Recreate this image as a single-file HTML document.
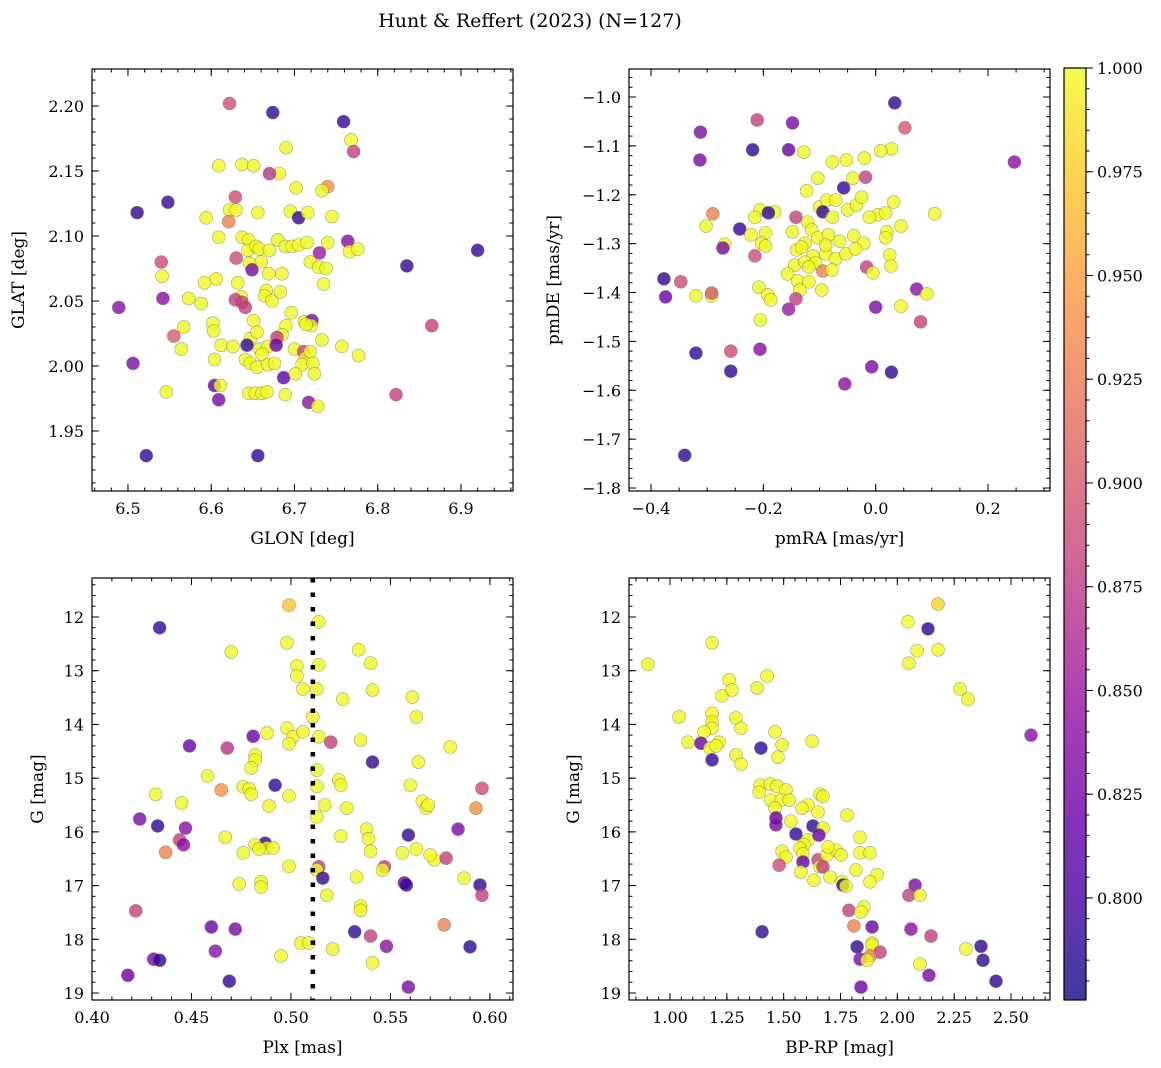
<!DOCTYPE html>
<html><head><meta charset="utf-8">
<style>
body{margin:0;background:#fff;}
svg{display:block;font-family:"DejaVu Serif","Liberation Serif",serif;}
</style></head>
<body>
<svg id="fig" width="1161" height="1068" viewBox="0 0 1161 1068" xmlns="http://www.w3.org/2000/svg">
<defs>
<linearGradient id="plasma" x1="0" y1="1" x2="0" y2="0">
<stop offset="0" stop-color="#0d0887"/><stop offset="0.1" stop-color="#41049d"/><stop offset="0.2" stop-color="#6a00a8"/><stop offset="0.3" stop-color="#8f0da4"/><stop offset="0.4" stop-color="#b12a90"/><stop offset="0.5" stop-color="#cc4778"/><stop offset="0.6" stop-color="#e16462"/><stop offset="0.7" stop-color="#f2844b"/><stop offset="0.8" stop-color="#fca636"/><stop offset="0.9" stop-color="#fcce25"/><stop offset="1" stop-color="#f0f921"/>
</linearGradient>
</defs>
<text x="530" y="27" font-size="19" text-anchor="middle">Hunt &amp; Reffert (2023) (N=127)</text>
</svg>
<script>
// ---- data ----
const sky = [
6.622,2.202,.89, 6.674,2.195,.79, 6.759,2.188,.79, 6.768,2.174,1, 6.690,2.168,1, 6.771,2.165,.88,
6.637,2.155,1, 6.609,2.154,1, 6.651,2.154,1, 6.682,2.148,1, 6.670,2.148,.87, 6.740,2.138,.94,
6.702,2.137,1, 6.733,2.135,1, 6.629,2.130,.89, 6.548,2.126,.79, 6.511,2.118,.79, 6.622,2.120,1,
6.630,2.120,1, 6.594,2.114,1, 6.656,2.118,1, 6.695,2.119,1, 6.705,2.114,.79, 6.716,2.118,1,
6.745,2.115,1, 6.621,2.111,.93, 6.637,2.099,1, 6.645,2.097,1, 6.644,2.089,1, 6.654,2.092,1,
6.660,2.080,1, 6.680,2.097,1, 6.689,2.092,1, 6.697,2.092,1, 6.705,2.093,1, 6.715,2.095,1,
6.740,2.095,1, 6.764,2.096,.84, 6.630,2.083,.89, 6.609,2.099,1, 6.658,2.090,1, 6.670,2.089,1,
6.730,2.087,.85, 6.719,2.080,1, 6.729,2.076,1, 6.738,2.075,1, 6.766,2.088,1, 6.776,2.090,1,
6.735,2.063,1, 6.646,2.079,1, 6.649,2.074,.83, 6.669,2.071,1, 6.685,2.071,1, 6.606,2.067,1,
6.592,2.064,1, 6.632,2.064,1, 6.666,2.058,1, 6.664,2.054,1, 6.673,2.050,1, 6.683,2.057,1,
6.636,2.053,1, 6.573,2.052,1, 6.588,2.048,1, 6.637,2.049,.88, 6.629,2.051,.88, 6.641,2.045,.88,
6.835,2.077,.79, 6.920,2.089,.79, 6.540,2.080,.89, 6.542,2.052,.84, 6.541,2.069,1, 6.602,2.033,1,
6.603,2.027,1, 6.696,2.041,1, 6.712,2.034,1, 6.721,2.035,.83, 6.720,2.031,1, 6.651,2.035,1,
6.567,2.030,1, 6.647,2.021,1, 6.655,2.026,1, 6.690,2.031,1, 6.685,2.024,1, 6.714,2.032,1,
6.658,2.013,1, 6.668,2.015,1, 6.679,2.022,.88, 6.678,2.016,.82, 6.700,2.013,1, 6.711,2.011,.88,
6.713,2.006,1, 6.719,2.011,1, 6.733,2.020,1, 6.757,2.015,1, 6.777,2.008,1, 6.643,2.016,.79,
6.564,2.013,1, 6.604,2.005,1, 6.612,2.016,1, 6.626,2.015,1, 6.641,2.005,1, 6.647,2.002,1,
6.655,1.999,1, 6.661,2.009,1, 6.668,2.001,1, 6.676,2.002,1, 6.709,2.001,1, 6.722,2.002,1,
6.724,1.994,1, 6.687,1.991,.81, 6.555,2.023,.9, 6.865,2.031,.88, 6.546,1.980,1, 6.604,1.985,.82,
6.611,1.985,1, 6.645,1.979,1, 6.653,1.979,1, 6.661,1.979,1, 6.667,1.980,1, 6.689,1.978,1,
6.701,1.994,1, 6.717,1.972,.84, 6.728,1.969,1, 6.609,1.974,.83, 6.822,1.978,.88, 6.489,2.045,.84,
6.506,2.002,.83, 6.522,1.931,.79, 6.656,1.931,.79
];
const pm = [
0.034,-1.012,.79, 0.247,-1.133,.84, 0.052,-1.063,.9, -0.312,-1.072,.83, -0.211,-1.047,.88, -0.148,-1.053,.83,
-0.219,-1.108,.79, -0.155,-1.108,.82, -0.128,-1.113,1, -0.313,-1.129,.83, 0.028,-1.106,1, 0.009,-1.110,1,
-0.020,-1.125,1, -0.052,-1.129,1, -0.077,-1.133,1, -0.103,-1.166,1, -0.041,-1.166,1, -0.018,-1.164,.88,
-0.123,-1.192,1, -0.057,-1.186,.79, -0.100,-1.225,1, -0.087,-1.211,1, -0.071,-1.211,1, -0.094,-1.235,.79,
0.032,-1.215,1, 0.004,-1.241,1, 0.018,-1.237,1, -0.011,-1.246,1, 0.045,-1.264,1, 0.105,-1.239,1,
-0.180,-1.235,1, -0.206,-1.231,1, -0.191,-1.237,.79, -0.215,-1.246,1, -0.142,-1.246,.88, -0.121,-1.256,1,
-0.077,-1.246,1, -0.050,-1.231,1, -0.290,-1.239,.93, -0.302,-1.264,1, -0.242,-1.270,.79, -0.222,-1.282,1,
-0.196,-1.278,1, -0.148,-1.276,1, -0.114,-1.272,1, -0.126,-1.299,1, -0.103,-1.288,1, -0.084,-1.282,1,
-0.064,-1.295,1, -0.039,-1.284,1, -0.021,-1.299,1, 0.020,-1.276,1, 0.018,-1.288,1, 0.025,-1.323,1,
0.027,-1.346,1, -0.016,-1.348,.88, -0.005,-1.360,1, -0.203,-1.299,1, -0.196,-1.305,1, -0.269,-1.301,1,
-0.272,-1.309,.83, -0.215,-1.325,.89, -0.141,-1.313,1, -0.132,-1.307,1, -0.112,-1.325,1, -0.089,-1.321,1,
-0.071,-1.331,1, -0.053,-1.321,1, -0.036,-1.311,1, -0.144,-1.344,1, -0.126,-1.338,1, -0.107,-1.340,1,
-0.094,-1.356,.93, -0.078,-1.354,1, -0.157,-1.362,1, -0.139,-1.376,1, -0.119,-1.378,1, -0.135,-1.395,1,
-0.096,-1.395,1, -0.208,-1.389,1, -0.192,-1.405,1, -0.187,-1.415,1, -0.142,-1.413,.88, -0.377,-1.372,.79,
-0.347,-1.378,.89, -0.374,-1.409,.82, -0.320,-1.407,1, -0.292,-1.407,1, -0.292,-1.401,.9, -0.205,-1.456,1,
-0.155,-1.434,.85, 0.073,-1.393,.84, 0.091,-1.403,1, 0.045,-1.428,1, 0.000,-1.430,.83, 0.080,-1.460,.88,
-0.320,-1.524,.79, -0.258,-1.520,.89, -0.206,-1.516,.84, -0.258,-1.561,.79, -0.007,-1.552,.83, 0.028,-1.563,.79,
-0.055,-1.587,.84, -0.340,-1.733,.79, -0.034,-1.221,1, -0.025,-1.205,1, -0.089,-1.303,1, -0.119,-1.348,1
];
const plxG = [
0.499,11.78,.97, 0.514,12.09,1, 0.434,12.20,.79, 0.534,12.61,1, 0.470,12.65,1, 0.498,12.48,1,
0.503,12.91,1, 0.540,12.86,1, 0.514,12.89,1, 0.503,13.10,1, 0.506,13.34,1, 0.513,13.34,1,
0.541,13.36,1, 0.526,13.53,1, 0.561,13.49,1, 0.563,13.86,1, 0.511,13.86,1, 0.498,14.07,1,
0.514,14.23,1, 0.520,14.33,.88, 0.488,14.16,1, 0.501,14.23,1, 0.506,14.14,1, 0.499,14.36,1,
0.481,14.22,.82, 0.535,14.29,1, 0.468,14.44,.87, 0.449,14.40,.82, 0.564,14.70,1, 0.541,14.70,.79,
0.482,14.57,1, 0.482,14.66,1, 0.580,14.42,1, 0.480,14.81,1, 0.513,14.85,1, 0.524,15.03,1,
0.525,15.13,1, 0.513,15.15,1, 0.458,14.96,1, 0.492,15.13,.79, 0.476,15.16,1, 0.479,15.20,1,
0.465,15.22,.94, 0.480,15.30,1, 0.432,15.30,1, 0.499,15.33,1, 0.560,15.13,1, 0.596,15.19,.89,
0.517,15.50,1, 0.445,15.46,1, 0.489,15.52,1, 0.528,15.56,1, 0.566,15.43,1, 0.568,15.56,1,
0.569,15.50,1, 0.593,15.56,.94, 0.513,15.72,1, 0.538,15.95,1, 0.424,15.76,.83, 0.433,15.89,.79,
0.447,15.93,.84, 0.584,15.95,.83, 0.559,16.06,.79, 0.525,16.08,1, 0.539,16.13,1, 0.467,16.10,1,
0.444,16.15,.88, 0.446,16.24,.84, 0.487,16.21,.79, 0.482,16.24,1, 0.540,16.36,1, 0.488,16.30,1,
0.491,16.30,1, 0.484,16.32,1, 0.476,16.39,1, 0.437,16.38,.93, 0.556,16.39,1, 0.563,16.32,1,
0.572,16.52,1, 0.570,16.43,1, 0.578,16.49,.88, 0.547,16.65,.88, 0.546,16.71,1, 0.514,16.65,.88,
0.513,16.71,1, 0.499,16.64,1, 0.516,16.86,.79, 0.533,16.84,1, 0.587,16.86,1, 0.557,16.95,.82,
0.558,16.99,.79, 0.474,16.97,1, 0.485,16.93,1, 0.485,17.03,1, 0.518,17.18,1, 0.595,16.99,.79,
0.596,17.18,.88, 0.535,17.38,1, 0.535,17.46,1, 0.422,17.47,.88, 0.577,17.73,.93, 0.460,17.77,.82,
0.472,17.81,.83, 0.532,17.86,.79, 0.540,17.94,.88, 0.505,18.07,1, 0.509,18.07,1, 0.548,18.13,.84,
0.590,18.14,.79, 0.521,18.18,1, 0.462,18.22,.84, 0.495,18.31,1, 0.431,18.37,.83, 0.434,18.39,.79,
0.541,18.44,1, 0.418,18.67,.82, 0.469,18.78,.79, 0.559,18.89,.83
];
const cmd = [
2.179,11.76,.98, 2.047,12.09,1, 2.135,12.22,.79, 2.087,12.63,1, 2.179,12.61,1, 2.051,12.86,1,
0.903,12.88,1, 1.185,12.48,1, 1.427,13.10,1, 1.260,13.17,1, 2.276,13.34,1, 2.311,13.53,1,
1.383,13.32,1, 1.229,13.47,1, 1.273,13.36,1, 1.040,13.86,1, 1.185,13.79,1, 1.185,13.95,1,
1.185,14.07,1, 1.290,13.88,1, 1.312,14.07,1, 1.150,14.14,1, 1.216,14.33,1, 1.136,14.35,.82,
1.079,14.33,1, 1.176,14.44,1, 1.203,14.40,1, 1.400,14.44,.79, 1.462,14.14,1, 1.493,14.38,1,
1.475,14.61,1, 1.625,14.31,1, 1.290,14.57,1, 1.312,14.74,1, 1.185,14.66,.79, 2.588,14.20,.84,
1.397,15.13,1, 1.441,15.11,1, 1.471,15.15,1, 1.392,15.26,1, 1.444,15.41,1, 1.510,15.22,1,
1.489,15.41,1, 1.524,15.41,1, 1.462,15.56,1, 1.607,15.50,1, 1.580,15.56,1, 1.660,15.30,1,
1.673,15.34,1, 1.779,15.69,1, 1.651,15.63,1, 1.466,15.74,.82, 1.466,15.87,.83, 1.532,15.80,1,
1.629,15.89,.79, 1.673,15.93,1, 1.554,16.04,.79, 1.607,16.15,1, 1.655,16.06,.82, 1.836,16.10,1,
1.589,16.24,1, 1.572,16.30,1, 1.493,16.36,1, 1.510,16.47,1, 1.585,16.41,1, 1.651,16.52,.88,
1.690,16.43,1, 1.730,16.34,1, 1.752,16.43,1, 1.660,16.65,1, 1.673,16.65,.88, 1.695,16.28,1,
1.836,16.39,1, 1.480,16.62,.89, 1.585,16.56,.82, 1.576,16.75,1, 1.818,16.71,1, 1.880,16.39,1,
1.633,16.90,1, 1.704,16.84,1, 1.757,16.93,1, 1.761,16.99,.79, 1.774,17.01,1, 1.911,16.80,1,
1.880,16.93,1, 2.078,16.99,.83, 2.051,17.18,.88, 2.100,17.18,1, 1.787,17.46,.88, 1.853,17.40,1,
1.840,17.49,1, 1.809,17.75,.93, 1.889,17.77,.82, 1.405,17.86,.79, 2.060,17.81,.84, 2.148,17.94,.88,
1.889,18.07,1, 1.889,18.11,1, 1.823,18.14,.79, 2.368,18.13,.79, 2.302,18.18,1, 1.924,18.24,.88,
1.880,18.31,.93, 1.836,18.37,.83, 1.867,18.39,1, 2.100,18.46,1, 2.377,18.39,.79, 2.139,18.67,.83,
2.434,18.78,.79, 1.840,18.89,.82
];
const plxLine = [0.511];
const cbTicks = [0.800,0.825,0.850,0.875,0.900,0.925,0.950,0.975,1.000];
const cbRange = [0.7754, 1.0];

// ---- drawing ----
const NS = "http://www.w3.org/2000/svg";
const svg = document.getElementById('fig');
function el(tag, attrs, parent){ const e = document.createElementNS(NS, tag); for (const k in attrs) e.setAttribute(k, attrs[k]); (parent||svg).appendChild(e); return e; }
const stops = ["#0d0887","#41049d","#6a00a8","#8f0da4","#b12a90","#cc4778","#e16462","#f2844b","#fca636","#fcce25","#f0f921"];
function hex(h){return [parseInt(h.slice(1,3),16),parseInt(h.slice(3,5),16),parseInt(h.slice(5,7),16)];}
function cmap(v){
  let t = (v-cbRange[0])/(cbRange[1]-cbRange[0]); t = Math.max(0,Math.min(1,t));
  const f = t*10, i = Math.min(9, Math.floor(f)), r = f-i;
  const a = hex(stops[i]), b = hex(stops[i+1]);
  return 'rgb(' + a.map((c,k)=>Math.round(c+(b[k]-c)*r)).join(',') + ')';
}
function fmtNum(v, d){ const s = Math.abs(v).toFixed(d); return (v < -1e-9 ? '\u2212' : '') + s; }

function panel(cfg){
  const g = el('g', {});
  
  
  const {x0,x1,y0,y1,xmin,xmax,ymin,ymax,invY} = cfg;
  const sx = v => x0 + (v-xmin)/(xmax-xmin)*(x1-x0);
  const sy = v => invY ? y0 + (v-ymin)/(ymax-ymin)*(y1-y0) : y1 - (v-ymin)/(ymax-ymin)*(y1-y0);
  function ticks(step, lo, hi){ const out=[]; for(let k=Math.ceil(lo/step-1e-6); k<=Math.floor(hi/step+1e-6); k++) out.push(k*step); return out; }
  const tg = el('g', {stroke:'#000','stroke-width':1}, g);
  ticks(cfg.xminor, xmin, xmax).forEach(v=>{ const x=sx(v); el('line',{x1:x,x2:x,y1:y1,y2:y1-3.5},tg); el('line',{x1:x,x2:x,y1:y0,y2:y0+3.5},tg); });
  ticks(cfg.yminor, ymin, ymax).forEach(v=>{ const y=sy(v); el('line',{x1:x0,x2:x0+3.5,y1:y,y2:y},tg); el('line',{x1:x1,x2:x1-3.5,y1:y,y2:y},tg); });
  ticks(cfg.xmajor, xmin, xmax).forEach(v=>{ const x=sx(v);
    el('line',{x1:x,x2:x,y1:y1,y2:y1-7},tg); el('line',{x1:x,x2:x,y1:y0,y2:y0+7},tg);
    const t = el('text',{x:x,y:y1+23,'font-size':16,'text-anchor':'middle'},g); t.textContent = fmtNum(v,cfg.xd);
      });
  ticks(cfg.ymajor, ymin, ymax).forEach(v=>{ const y=sy(v);
    el('line',{x1:x0,x2:x0+7,y1:y,y2:y},tg); el('line',{x1:x1,x2:x1-7,y1:y,y2:y},tg);
    const t = el('text',{x:x0-8,y:y+6,'font-size':16,'text-anchor':'end'},g); t.textContent = fmtNum(v,cfg.yd);
      });
  const pg = el('g', {}, g);
  
  
  const d = cfg.data;
  for (let i=0;i<d.length;i+=3){
    const c = el('circle',{cx:sx(d[i]),cy:sy(d[i+1]),r:6.5,fill:cmap(d[i+2]),'fill-opacity':0.8,stroke:'#6b6b50','stroke-opacity':0.6,'stroke-width':0.6},pg);
    
    
  }
  if (cfg.vline){ cfg.vline.forEach(v=>{ const l = el('line',{x1:sx(v),x2:sx(v),y1:y0,y2:y1,stroke:'#000','stroke-width':4.5,'stroke-dasharray':'4.5,10'},g);
      }); }
  const fr = el('rect',{x:x0,y:y0,width:x1-x0,height:y1-y0,fill:'none',stroke:'#000','stroke-width':1.2},g);
   
  const xl = el('text',{x:(x0+x1)/2,y:y1+53,'font-size':17,'text-anchor':'middle'},g); xl.textContent = cfg.xlabel;
   
  const yx = cfg.ylabx, yy = (y0+y1)/2;
  const yl = el('text',{x:yx,y:yy,'font-size':17,'text-anchor':'middle',transform:`rotate(-90 ${yx} ${yy})`},g); yl.textContent = cfg.ylabel;
   
}

panel({name:'sky-panel',x0:92,x1:513,y0:69,y1:491,xmin:6.4568,xmax:6.9625,ymin:1.9038,ymax:2.2285,xmajor:0.1,xminor:0.02,ymajor:0.05,yminor:0.01,xd:1,yd:2,data:sky,xlabel:'GLON [deg]',ylabel:'GLAT [deg]',ylabx:24});
panel({name:'pm-panel',x0:629,x1:1050,y0:69,y1:491,xmin:-0.4392,xmax:0.3104,ymin:-1.8061,ymax:-0.9427,xmajor:0.2,xminor:0.05,ymajor:0.1,yminor:0.02,xd:1,yd:1,data:pm,xlabel:'pmRA [mas/yr]',ylabel:'pmDE [mas/yr]',ylabx:559});
panel({name:'plx-panel',x0:92,x1:513,y0:578,y1:1000,xmin:0.40,xmax:0.6116,ymin:11.274,ymax:19.13,invY:true,xmajor:0.05,xminor:0.01,ymajor:1,yminor:0.2,xd:2,yd:0,data:plxG,vline:plxLine,xlabel:'Plx [mas]',ylabel:'G [mag]',ylabx:43});
panel({name:'cmd-panel',x0:629,x1:1050,y0:578,y1:1000,xmin:0.8196,xmax:2.6716,ymin:11.274,ymax:19.13,invY:true,xmajor:0.25,xminor:0.05,ymajor:1,yminor:0.2,xd:2,yd:0,data:cmd,xlabel:'BP-RP [mag]',ylabel:'G [mag]',ylabx:579});

// colorbar
(function(){
  const g = el('g',{});
  
  
  const x0=1064,x1=1086,y0=68,y1=1000;
  const sy = v => y1 - (v-cbRange[0])/(cbRange[1]-cbRange[0])*(y1-y0);
  el('rect',{x:x0,y:y0,width:x1-x0,height:y1-y0,fill:'url(#plasma)','fill-opacity':0.8},g);
  el('rect',{x:x0,y:y0,width:x1-x0,height:y1-y0,fill:'none',stroke:'#000','stroke-width':1.2},g);
  for (let k=Math.ceil(cbRange[0]/0.005); k<=Math.floor(cbRange[1]/0.005+1e-6); k++){ const y=sy(k*0.005); el('line',{x1:x1,x2:x1+3.5,y1:y,y2:y,stroke:'#000'},g); }
  cbTicks.forEach(v=>{ const y=sy(v); el('line',{x1:x1,x2:x1+7,y1:y,y2:y,stroke:'#000'},g);
    const t = el('text',{x:x1+11,y:y+6,'font-size':16},g); t.textContent = v.toFixed(3);
      });
})();
</script>
</body></html>
